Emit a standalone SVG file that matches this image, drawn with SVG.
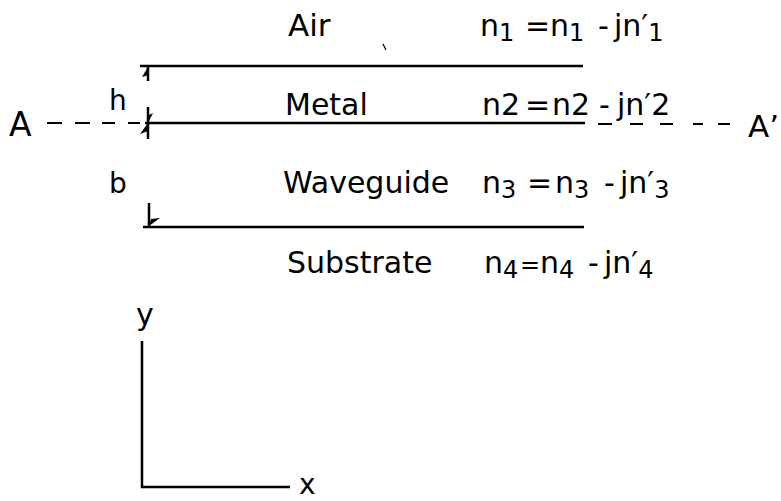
<svg xmlns="http://www.w3.org/2000/svg" width="781" height="501" viewBox="0 0 781 501">
<style>
text{font-family:"DejaVu Sans","Liberation Sans",sans-serif;fill:#000;font-size:30px}
.big{font-size:33px}
.sub{font-size:24px}
.ln{stroke:#000;stroke-width:2.5;fill:none}
.dash{stroke:#000;stroke-width:2;fill:none}
.ax{stroke:#000;stroke-width:2.5;fill:none}
</style>
<rect width="781" height="501" fill="#fff"/>
<g id="layers">
<line class="ln" x1="140" y1="66" x2="583" y2="66"/>
<line class="ln" x1="145" y1="123" x2="585" y2="123"/>
<line class="ln" x1="143" y1="227" x2="584" y2="227"/>
</g>
<g id="section-line">
<path class="dash" d="M47 123H62M75 123H90M102 123H115M128 123H140"/>
<path class="dash" d="M598 124H612M630 124H643M660 124H673M693 124H703M718 124H730"/>
<text class="big" x="9" y="136">A</text>
<text x="748" y="137" style="font-size:31px">A’</text>
</g>
<g id="dimensions">
<path class="ln" d="M148 67V81M148 107V139M149 203V227"/>
<path d="M148 67L142 77L149 75Z" fill="#000"/>
<path d="M148 123L153 113L147 116Z" fill="#000"/>
<path d="M148 123L140 134L148 131Z" fill="#000"/>
<path d="M149 226L160 218L151 219Z" fill="#000"/>
<text x="109" y="110" style="font-size:28px">h</text>
<text x="109" y="193" style="font-size:28px">b</text>
</g>
<g id="air">
<text x="288" y="36" style="font-size:31px">Air</text>
<text x="480" y="36">n<tspan class="sub" dy="5">1</tspan><tspan x="525" dy="-5">=</tspan><tspan x="550">n</tspan><tspan class="sub" dy="5">1</tspan><tspan x="598" dy="-5">-</tspan><tspan x="614">jn′</tspan><tspan class="sub" dy="5">1</tspan></text>
</g>
<g id="metal">
<text x="285" y="115">Metal</text>
<text x="482" y="115">n2<tspan x="525">=</tspan><tspan x="552">n2</tspan><tspan x="599">-</tspan><tspan x="617">jn′2</tspan></text>
</g>
<g id="waveguide">
<text x="283" y="193">Waveguide</text>
<text x="482" y="193">n<tspan class="sub" dy="5">3</tspan><tspan x="527" dy="-5">=</tspan><tspan x="555">n</tspan><tspan class="sub" dy="5">3</tspan><tspan x="604" dy="-5">-</tspan><tspan x="620">jn′</tspan><tspan class="sub" dy="5">3</tspan></text>
</g>
<g id="substrate">
<text x="287" y="273">Substrate</text>
<text x="484" y="273">n<tspan class="sub" dy="5">4</tspan><tspan x="520" dy="-5" style="font-size:24px">=</tspan><tspan x="540">n</tspan><tspan class="sub" dy="5">4</tspan><tspan x="588" dy="-5">-</tspan><tspan x="604">jn′</tspan><tspan class="sub" dy="5">4</tspan></text>
</g>
<g id="axes">
<path class="ax" d="M142 341V487H290"/>
<text x="136" y="325">y</text>
<text x="299" y="494" style="font-size:28px">x</text>
</g>
<path d="M383 44L386 50" stroke="#000" stroke-width="1.2"/>
</svg>
